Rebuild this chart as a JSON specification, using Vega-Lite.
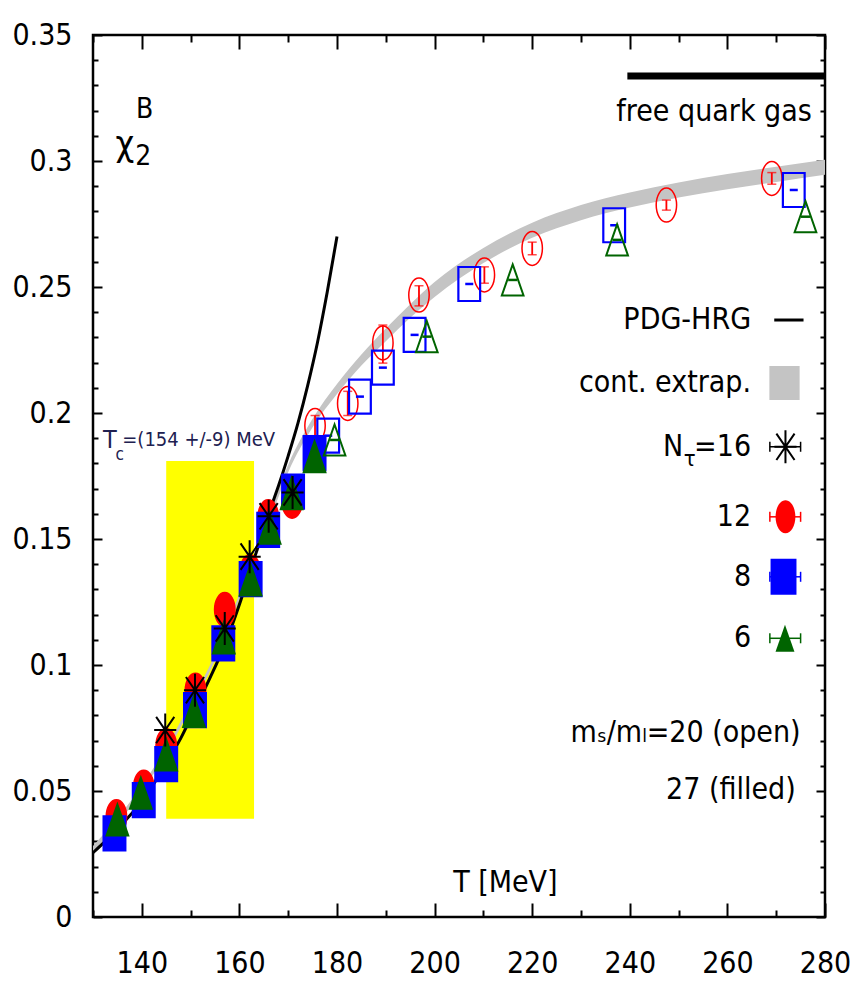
{
  "$schema": "https://vega.github.io/schema/vega-lite/v6.json",
  "width": 732,
  "height": 882,
  "autosize": {"type": "none"},
  "padding": {"left": 93, "top": 35, "right": 35, "bottom": 71},
  "background": "white",
  "data": {"values": [{}]},
  "datasets": {
    "tc": [{"Tc": 154, "lo": 145, "hi": 163}],
    "band": [
      {"T": 130, "lo": 0.0258, "hi": 0.0282},
      {"T": 135, "lo": 0.0368, "hi": 0.0392},
      {"T": 140, "lo": 0.0498, "hi": 0.0522},
      {"T": 145, "lo": 0.0648, "hi": 0.0672},
      {"T": 150, "lo": 0.0828, "hi": 0.0852},
      {"T": 155, "lo": 0.1018, "hi": 0.1042},
      {"T": 160, "lo": 0.1258, "hi": 0.1282},
      {"T": 165, "lo": 0.1507, "hi": 0.1533},
      {"T": 170, "lo": 0.1765, "hi": 0.1795},
      {"T": 175, "lo": 0.1943, "hi": 0.1977},
      {"T": 180, "lo": 0.2075, "hi": 0.2115},
      {"T": 185, "lo": 0.2188, "hi": 0.2232},
      {"T": 190, "lo": 0.2285, "hi": 0.2335},
      {"T": 195, "lo": 0.2378, "hi": 0.2432},
      {"T": 200, "lo": 0.246, "hi": 0.252},
      {"T": 210, "lo": 0.2595, "hi": 0.2655},
      {"T": 220, "lo": 0.2695, "hi": 0.2755},
      {"T": 230, "lo": 0.2765, "hi": 0.2825},
      {"T": 240, "lo": 0.2815, "hi": 0.2875},
      {"T": 250, "lo": 0.2855, "hi": 0.2915},
      {"T": 260, "lo": 0.2888, "hi": 0.2948},
      {"T": 270, "lo": 0.2917, "hi": 0.2977},
      {"T": 280, "lo": 0.2945, "hi": 0.3005}
    ],
    "hrg": [
      {"T": 130, "chi": 0.0255},
      {"T": 133, "chi": 0.031},
      {"T": 136, "chi": 0.037},
      {"T": 139, "chi": 0.0435},
      {"T": 142, "chi": 0.0515},
      {"T": 145, "chi": 0.061},
      {"T": 148, "chi": 0.071},
      {"T": 151, "chi": 0.083},
      {"T": 154, "chi": 0.095},
      {"T": 157, "chi": 0.108},
      {"T": 160, "chi": 0.124},
      {"T": 162, "chi": 0.136},
      {"T": 164, "chi": 0.148},
      {"T": 166, "chi": 0.16},
      {"T": 168, "chi": 0.171},
      {"T": 170, "chi": 0.183},
      {"T": 172, "chi": 0.196},
      {"T": 174, "chi": 0.211},
      {"T": 176, "chi": 0.228},
      {"T": 178, "chi": 0.248},
      {"T": 180, "chi": 0.27}
    ],
    "pts": [
      {"Nt": 12, "ms": 27, "T": 134.8, "chi": 0.0398},
      {"Nt": 12, "ms": 27, "T": 140.4, "chi": 0.0515},
      {"Nt": 12, "ms": 27, "T": 145.0, "chi": 0.068},
      {"Nt": 12, "ms": 27, "T": 151.0, "chi": 0.09},
      {"Nt": 12, "ms": 27, "T": 157.0, "chi": 0.122},
      {"Nt": 12, "ms": 27, "T": 162.2, "chi": 0.137},
      {"Nt": 12, "ms": 27, "T": 165.9, "chi": 0.1588},
      {"Nt": 12, "ms": 27, "T": 170.8, "chi": 0.165},
      {"Nt": 12, "ms": 20, "T": 175.5, "chi": 0.195, "lo": 0.191, "hi": 0.199},
      {"Nt": 12, "ms": 20, "T": 182.2, "chi": 0.2038, "lo": 0.199, "hi": 0.2086},
      {"Nt": 12, "ms": 20, "T": 189.4, "chi": 0.2278, "lo": 0.2198, "hi": 0.2349},
      {"Nt": 12, "ms": 20, "T": 196.8, "chi": 0.2468, "lo": 0.2425, "hi": 0.2505},
      {"Nt": 12, "ms": 20, "T": 210.2, "chi": 0.2548, "lo": 0.2515, "hi": 0.258},
      {"Nt": 12, "ms": 20, "T": 220.0, "chi": 0.2653, "lo": 0.2628, "hi": 0.2678},
      {"Nt": 12, "ms": 20, "T": 247.5, "chi": 0.2825, "lo": 0.2805, "hi": 0.2845},
      {"Nt": 12, "ms": 20, "T": 269.1, "chi": 0.2931, "lo": 0.2908, "hi": 0.2954},
      {"Nt": 8, "ms": 27, "T": 134.4, "chi": 0.0332},
      {"Nt": 8, "ms": 27, "T": 140.4, "chi": 0.0464},
      {"Nt": 8, "ms": 27, "T": 145.0, "chi": 0.0607},
      {"Nt": 8, "ms": 27, "T": 150.9, "chi": 0.0821},
      {"Nt": 8, "ms": 27, "T": 156.7, "chi": 0.1086},
      {"Nt": 8, "ms": 27, "T": 162.3, "chi": 0.1341},
      {"Nt": 8, "ms": 27, "T": 165.9, "chi": 0.1536},
      {"Nt": 8, "ms": 27, "T": 171.0, "chi": 0.1688},
      {"Nt": 8, "ms": 27, "T": 175.4, "chi": 0.1841},
      {"Nt": 8, "ms": 20, "T": 178.2, "chi": 0.191},
      {"Nt": 8, "ms": 20, "T": 184.7, "chi": 0.2065},
      {"Nt": 8, "ms": 20, "T": 189.4, "chi": 0.218},
      {"Nt": 8, "ms": 20, "T": 195.9, "chi": 0.231},
      {"Nt": 8, "ms": 20, "T": 207.1, "chi": 0.2512},
      {"Nt": 8, "ms": 20, "T": 236.8, "chi": 0.2745},
      {"Nt": 8, "ms": 20, "T": 273.6, "chi": 0.2885},
      {"Nt": 6, "ms": 27, "T": 135.0, "chi": 0.0385},
      {"Nt": 6, "ms": 27, "T": 139.8, "chi": 0.0491},
      {"Nt": 6, "ms": 27, "T": 145.0, "chi": 0.0643},
      {"Nt": 6, "ms": 27, "T": 150.7, "chi": 0.0815},
      {"Nt": 6, "ms": 27, "T": 156.8, "chi": 0.1107},
      {"Nt": 6, "ms": 27, "T": 162.3, "chi": 0.1337},
      {"Nt": 6, "ms": 27, "T": 166.2, "chi": 0.1543},
      {"Nt": 6, "ms": 27, "T": 170.7, "chi": 0.168},
      {"Nt": 6, "ms": 27, "T": 175.4, "chi": 0.1826},
      {"Nt": 6, "ms": 20, "T": 179.5, "chi": 0.1893},
      {"Nt": 6, "ms": 20, "T": 198.4, "chi": 0.2303},
      {"Nt": 6, "ms": 20, "T": 216.0, "chi": 0.2528},
      {"Nt": 6, "ms": 20, "T": 237.4, "chi": 0.2687},
      {"Nt": 6, "ms": 20, "T": 276.0, "chi": 0.2779},
      {"Nt": 16, "ms": 20, "T": 144.8, "chi": 0.0742},
      {"Nt": 16, "ms": 20, "T": 150.9, "chi": 0.09},
      {"Nt": 16, "ms": 20, "T": 157.0, "chi": 0.1145},
      {"Nt": 16, "ms": 20, "T": 162.1, "chi": 0.143},
      {"Nt": 16, "ms": 20, "T": 166.0, "chi": 0.159},
      {"Nt": 16, "ms": 20, "T": 170.9, "chi": 0.1685}
    ]
  },
  "resolve": {"axis": {"x": "independent", "y": "independent"}},
  "layer": [
    {
      "data": {"name": "tc"},
      "mark": {"type": "rect", "color": "#ffff00", "opacity": 1},
      "encoding": {
        "x": {"field": "lo", "type": "quantitative", "axis": null},
        "x2": {"field": "hi"},
        "y": {"datum": 0.039, "type": "quantitative", "axis": null},
        "y2": {"datum": 0.181}
      }
    },
    {
      "data": {"name": "band"},
      "mark": {"type": "area", "color": "#c4c4c4", "opacity": 1, "interpolate": "monotone"},
      "encoding": {
        "x": {"field": "T", "type": "quantitative",
          "scale": {"domain": [130, 280], "nice": false, "zero": false},
          "axis": {"orient": "bottom", "title": null, "domain": false, "grid": false,
            "values": [130,140,150,160,170,180,190,200,210,220,230,240,250,260,270,280],
            "labelExpr": "datum.value % 20 == 0 ? datum.label : ''",
            "tickSize": {"condition": {"test": "datum.value % 20 == 0", "value": -14}, "value": -7},
            "labelPadding": 45, "labelOverlap": false, "labelFlush": false}},
        "y": {"field": "lo", "type": "quantitative",
          "scale": {"domain": [0, 0.35], "nice": false, "zero": false},
          "axis": {"orient": "left", "title": null, "domain": false, "grid": false,
            "values": [0,0.01,0.02,0.03,0.04,0.05,0.06,0.07,0.08,0.09,0.1,0.11,0.12,0.13,0.14,0.15,0.16,0.17,0.18,0.19,0.2,0.21,0.22,0.23,0.24,0.25,0.26,0.27,0.28,0.29,0.3,0.31,0.32,0.33,0.34,0.35],
            "labelExpr": "round(datum.value*100) % 5 == 0 ? format(datum.value, '~g') : ''",
            "tickSize": {"condition": {"test": "round(datum.value*100) % 5 == 0", "value": -9}, "value": -5},
            "labelPadding": 30, "labelOverlap": false, "labelFlush": false}},
        "y2": {"field": "hi"}
      }
    },
    {
      "data": {"name": "hrg"},
      "mark": {"type": "line", "color": "black", "strokeWidth": 3, "interpolate": "monotone"},
      "encoding": {
        "x": {"field": "T", "type": "quantitative",
          "axis": {"orient": "top", "title": null, "domain": false, "grid": false, "labels": false,
            "values": [130,140,150,160,170,180,190,200,210,220,230,240,250,260,270,280],
            "tickSize": {"condition": {"test": "datum.value % 20 == 0", "value": -14}, "value": -7}}},
        "y": {"field": "chi", "type": "quantitative",
          "axis": {"orient": "right", "title": null, "domain": false, "grid": false, "labels": false,
            "values": [0,0.01,0.02,0.03,0.04,0.05,0.06,0.07,0.08,0.09,0.1,0.11,0.12,0.13,0.14,0.15,0.16,0.17,0.18,0.19,0.2,0.21,0.22,0.23,0.24,0.25,0.26,0.27,0.28,0.29,0.3,0.31,0.32,0.33,0.34,0.35],
            "tickSize": {"condition": {"test": "round(datum.value*100) % 5 == 0", "value": -9}, "value": -5}}}
      }
    },
    {
      "mark": {"type": "rule", "color": "black", "strokeWidth": 7},
      "encoding": {
        "x": {"datum": 239.5, "type": "quantitative", "axis": null},
        "x2": {"datum": 280},
        "y": {"datum": 0.3337, "type": "quantitative", "axis": null}
      }
    },
    {
      "data": {"name": "pts"},
      "transform": [{"filter": "datum.Nt == 12 && datum.ms == 20"}],
      "mark": {"type": "errorbar", "color": "#ff0000", "ticks": {"size": 9, "thickness": 1.5}, "rule": {"strokeWidth": 1.8}},
      "encoding": {
        "x": {"field": "T", "type": "quantitative", "axis": null},
        "y": {"field": "lo", "type": "quantitative", "axis": null},
        "y2": {"field": "hi"}
      }
    },
    {
      "data": {"name": "pts"},
      "transform": [{"filter": "datum.Nt == 12"}],
      "mark": {"type": "point", "shape": "M-0.6,0A0.6,1,0,1,1,0.6,0A0.6,1,0,1,1,-0.6,0Z", "size": 1156, "stroke": "#ff0000", "strokeWidth": 1.5, "opacity": 1, "filled": false},
      "encoding": {
        "x": {"field": "T", "type": "quantitative", "axis": null},
        "y": {"field": "chi", "type": "quantitative", "axis": null},
        "fill": {"condition": {"test": "datum.ms == 27", "value": "#ff0000"}, "value": "transparent"}
      }
    },
    {
      "data": {"name": "pts"},
      "transform": [{"filter": "datum.Nt == 8"}],
      "mark": {"type": "point", "shape": "M-0.64,-1L0.64,-1L0.64,1L-0.64,1Z", "size": 1156, "stroke": "#0000ff", "strokeWidth": 2.2, "opacity": 1, "filled": false},
      "encoding": {
        "x": {"field": "T", "type": "quantitative", "axis": null},
        "y": {"field": "chi", "type": "quantitative", "axis": null},
        "fill": {"condition": {"test": "datum.ms == 27", "value": "#0000ff"}, "value": "transparent"}
      }
    },
    {
      "data": {"name": "pts"},
      "transform": [{"filter": "datum.Nt == 8 && datum.ms == 20"}],
      "mark": {"type": "tick", "orient": "horizontal", "color": "#0000ff", "size": 8, "thickness": 2.5, "opacity": 1},
      "encoding": {
        "x": {"field": "T", "type": "quantitative", "axis": null},
        "y": {"field": "chi", "type": "quantitative", "axis": null}
      }
    },
    {
      "data": {"name": "pts"},
      "transform": [{"filter": "datum.Nt == 6"}],
      "mark": {"type": "point", "shape": "M0,-1L0.7,1L-0.7,1Z", "size": 961, "stroke": "#006400", "strokeWidth": 2, "opacity": 1, "filled": false},
      "encoding": {
        "x": {"field": "T", "type": "quantitative", "axis": null},
        "y": {"field": "chi", "type": "quantitative", "axis": null},
        "fill": {"condition": {"test": "datum.ms == 27", "value": "#006400"}, "value": "transparent"}
      }
    },
    {
      "data": {"name": "pts"},
      "transform": [{"filter": "datum.Nt == 6 && datum.ms == 20"}],
      "mark": {"type": "tick", "orient": "horizontal", "color": "#006400", "size": 9, "thickness": 2.5, "opacity": 1},
      "encoding": {
        "x": {"field": "T", "type": "quantitative", "axis": null},
        "y": {"field": "chi", "type": "quantitative", "axis": null}
      }
    },
    {
      "data": {"name": "pts"},
      "transform": [{"filter": "datum.Nt == 16"}],
      "mark": {"type": "point", "shape": "M-0.67,0L0.67,0M0,-1L0,1M-0.55,-0.8L0.55,0.8M-0.55,0.8L0.55,-0.8", "size": 1089, "stroke": "black", "strokeWidth": 2, "opacity": 1, "filled": false},
      "encoding": {
        "x": {"field": "T", "type": "quantitative", "axis": null},
        "y": {"field": "chi", "type": "quantitative", "axis": null}
      }
    },
    {
      "mark": {"type": "rule", "color": "black", "strokeWidth": 3},
      "encoding": {
        "x": {"datum": 269.6, "type": "quantitative", "axis": null},
        "x2": {"datum": 275.6},
        "y": {"datum": 0.2369, "type": "quantitative", "axis": null}
      }
    },
    {
      "mark": {"type": "rect", "color": "#c4c4c4", "opacity": 1},
      "encoding": {
        "x": {"datum": 268.6, "type": "quantitative", "axis": null},
        "x2": {"datum": 274.8},
        "y": {"datum": 0.2052, "type": "quantitative", "axis": null},
        "y2": {"datum": 0.2187}
      }
    },
    {
      "encoding": {"y": {"datum": 0.1866, "type": "quantitative", "axis": null}},
      "layer": [
        {"mark": {"type": "rule", "color": "black", "strokeWidth": 1.5},
         "encoding": {"x": {"datum": 268.7, "type": "quantitative", "axis": null}, "x2": {"datum": 275}}},
        {"mark": {"type": "tick", "orient": "vertical", "color": "black", "size": 10, "thickness": 1.5, "opacity": 1},
         "encoding": {"x": {"datum": 268.7, "type": "quantitative", "axis": null}}},
        {"mark": {"type": "tick", "orient": "vertical", "color": "black", "size": 10, "thickness": 1.5, "opacity": 1},
         "encoding": {"x": {"datum": 275, "type": "quantitative", "axis": null}}},
        {"mark": {"type": "point", "shape": "M-0.67,0L0.67,0M0,-1L0,1M-0.55,-0.8L0.55,0.8M-0.55,0.8L0.55,-0.8", "size": 1089, "stroke": "black", "strokeWidth": 2, "opacity": 1, "filled": false},
         "encoding": {"x": {"datum": 271.9, "type": "quantitative", "axis": null}}}
      ]
    },
    {
      "encoding": {"y": {"datum": 0.1588, "type": "quantitative", "axis": null}},
      "layer": [
        {"mark": {"type": "rule", "color": "#ff0000", "strokeWidth": 1.5},
         "encoding": {"x": {"datum": 268.7, "type": "quantitative", "axis": null}, "x2": {"datum": 275}}},
        {"mark": {"type": "tick", "orient": "vertical", "color": "#ff0000", "size": 10, "thickness": 1.5, "opacity": 1},
         "encoding": {"x": {"datum": 268.7, "type": "quantitative", "axis": null}}},
        {"mark": {"type": "tick", "orient": "vertical", "color": "#ff0000", "size": 10, "thickness": 1.5, "opacity": 1},
         "encoding": {"x": {"datum": 275, "type": "quantitative", "axis": null}}},
        {"mark": {"type": "point", "shape": "M-0.6,0A0.6,1,0,1,1,0.6,0A0.6,1,0,1,1,-0.6,0Z", "size": 1089, "color": "#ff0000", "opacity": 1, "filled": true},
         "encoding": {"x": {"datum": 271.9, "type": "quantitative", "axis": null}}}
      ]
    },
    {
      "encoding": {"y": {"datum": 0.135, "type": "quantitative", "axis": null}},
      "layer": [
        {"mark": {"type": "rule", "color": "#0000ff", "strokeWidth": 1.5},
         "encoding": {"x": {"datum": 268.7, "type": "quantitative", "axis": null}, "x2": {"datum": 275}}},
        {"mark": {"type": "tick", "orient": "vertical", "color": "#0000ff", "size": 10, "thickness": 1.5, "opacity": 1},
         "encoding": {"x": {"datum": 268.7, "type": "quantitative", "axis": null}}},
        {"mark": {"type": "tick", "orient": "vertical", "color": "#0000ff", "size": 10, "thickness": 1.5, "opacity": 1},
         "encoding": {"x": {"datum": 275, "type": "quantitative", "axis": null}}},
        {"mark": {"type": "point", "shape": "M-0.72,-1L0.72,-1L0.72,1L-0.72,1Z", "size": 1296, "color": "#0000ff", "opacity": 1, "filled": true},
         "encoding": {"x": {"datum": 271.5, "type": "quantitative", "axis": null}}}
      ]
    },
    {
      "encoding": {"y": {"datum": 0.1106, "type": "quantitative", "axis": null}},
      "layer": [
        {"mark": {"type": "rule", "color": "#006400", "strokeWidth": 1.5},
         "encoding": {"x": {"datum": 268.7, "type": "quantitative", "axis": null}, "x2": {"datum": 275}}},
        {"mark": {"type": "tick", "orient": "vertical", "color": "#006400", "size": 10, "thickness": 1.5, "opacity": 1},
         "encoding": {"x": {"datum": 268.7, "type": "quantitative", "axis": null}}},
        {"mark": {"type": "tick", "orient": "vertical", "color": "#006400", "size": 10, "thickness": 1.5, "opacity": 1},
         "encoding": {"x": {"datum": 275, "type": "quantitative", "axis": null}}},
        {"mark": {"type": "point", "shape": "M0,-1L0.7,1L-0.7,1Z", "size": 729, "color": "#006400", "opacity": 1, "filled": true},
         "encoding": {"x": {"datum": 271.8, "type": "quantitative", "axis": null}}}
      ]
    },
    {
      "mark": {"type": "text", "text": "free quark gas", "align": "right", "baseline": "middle"},
      "encoding": {"x": {"datum": 277.3, "type": "quantitative", "axis": null}, "y": {"datum": 0.3195, "type": "quantitative", "axis": null}}
    },
    {
      "mark": {"type": "text", "text": "PDG-HRG", "align": "right", "baseline": "middle"},
      "encoding": {"x": {"datum": 264.85, "type": "quantitative", "axis": null}, "y": {"datum": 0.2369, "type": "quantitative", "axis": null}}
    },
    {
      "mark": {"type": "text", "text": "cont. extrap.", "align": "right", "baseline": "middle"},
      "encoding": {"x": {"datum": 264.85, "type": "quantitative", "axis": null}, "y": {"datum": 0.2118, "type": "quantitative", "axis": null}}
    },
    {
      "mark": {"type": "text", "text": "=16", "align": "right", "baseline": "middle"},
      "encoding": {"x": {"datum": 264.85, "type": "quantitative", "axis": null}, "y": {"datum": 0.1866, "type": "quantitative", "axis": null}}
    },
    {
      "mark": {"type": "text", "text": "τ", "align": "center", "baseline": "middle", "fontSize": 22},
      "encoding": {"x": {"datum": 252.3, "type": "quantitative", "axis": null}, "y": {"datum": 0.1816, "type": "quantitative", "axis": null}}
    },
    {
      "mark": {"type": "text", "text": "N", "align": "center", "baseline": "middle"},
      "encoding": {"x": {"datum": 248.85, "type": "quantitative", "axis": null}, "y": {"datum": 0.1866, "type": "quantitative", "axis": null}}
    },
    {
      "mark": {"type": "text", "text": "12", "align": "right", "baseline": "middle"},
      "encoding": {"x": {"datum": 264.85, "type": "quantitative", "axis": null}, "y": {"datum": 0.1588, "type": "quantitative", "axis": null}}
    },
    {
      "mark": {"type": "text", "text": "8", "align": "right", "baseline": "middle"},
      "encoding": {"x": {"datum": 264.85, "type": "quantitative", "axis": null}, "y": {"datum": 0.135, "type": "quantitative", "axis": null}}
    },
    {
      "mark": {"type": "text", "text": "6", "align": "right", "baseline": "middle"},
      "encoding": {"x": {"datum": 264.85, "type": "quantitative", "axis": null}, "y": {"datum": 0.1106, "type": "quantitative", "axis": null}}
    },
    {
      "mark": {"type": "text", "text": "mₛ/mₗ=20 (open)", "align": "right", "baseline": "middle"},
      "encoding": {"x": {"datum": 275.0, "type": "quantitative", "axis": null}, "y": {"datum": 0.073, "type": "quantitative", "axis": null}}
    },
    {
      "mark": {"type": "text", "text": "27 (filled)", "align": "right", "baseline": "middle"},
      "encoding": {"x": {"datum": 274.0, "type": "quantitative", "axis": null}, "y": {"datum": 0.0504, "type": "quantitative", "axis": null}}
    },
    {
      "mark": {"type": "text", "text": "T [MeV]", "align": "center", "baseline": "middle"},
      "encoding": {"x": {"datum": 214.5, "type": "quantitative", "axis": null}, "y": {"datum": 0.0135, "type": "quantitative", "axis": null}}
    },
    {
      "mark": {"type": "text", "text": "χ", "align": "center", "baseline": "middle", "fontSize": 36},
      "encoding": {"x": {"datum": 136.5, "type": "quantitative", "axis": null}, "y": {"datum": 0.3065, "type": "quantitative", "axis": null}}
    },
    {
      "mark": {"type": "text", "text": "2", "align": "center", "baseline": "middle", "fontSize": 28},
      "encoding": {"x": {"datum": 140.3, "type": "quantitative", "axis": null}, "y": {"datum": 0.3016, "type": "quantitative", "axis": null}}
    },
    {
      "mark": {"type": "text", "text": "B", "align": "center", "baseline": "middle", "fontSize": 28},
      "encoding": {"x": {"datum": 140.6, "type": "quantitative", "axis": null}, "y": {"datum": 0.3202, "type": "quantitative", "axis": null}}
    },
    {
      "mark": {"type": "text", "text": "T", "align": "left", "baseline": "middle", "fontSize": 25, "color": "#202050"},
      "encoding": {"x": {"datum": 132.05, "type": "quantitative", "axis": null}, "y": {"datum": 0.1893, "type": "quantitative", "axis": null}}
    },
    {
      "mark": {"type": "text", "text": "c", "align": "left", "baseline": "middle", "fontSize": 17, "color": "#202050"},
      "encoding": {"x": {"datum": 134.6, "type": "quantitative", "axis": null}, "y": {"datum": 0.1835, "type": "quantitative", "axis": null}}
    },
    {
      "mark": {"type": "text", "text": "=(154 +/-9) MeV", "align": "left", "baseline": "middle", "fontSize": 20, "color": "#202050"},
      "encoding": {"x": {"datum": 136.0, "type": "quantitative", "axis": null}, "y": {"datum": 0.1893, "type": "quantitative", "axis": null}}
    }
  ],
  "config": {
    "view": {"stroke": "black", "strokeWidth": 2.5},
    "axis": {"tickColor": "black", "tickWidth": 2, "labelColor": "black", "labelFont": "Liberation Sans Narrow, DejaVu Sans Condensed, Liberation Sans, sans-serif", "labelFontSize": 30},
    "text": {"font": "Liberation Sans Narrow, DejaVu Sans Condensed, Liberation Sans, sans-serif", "fontSize": 30, "color": "black"}
  }
}
